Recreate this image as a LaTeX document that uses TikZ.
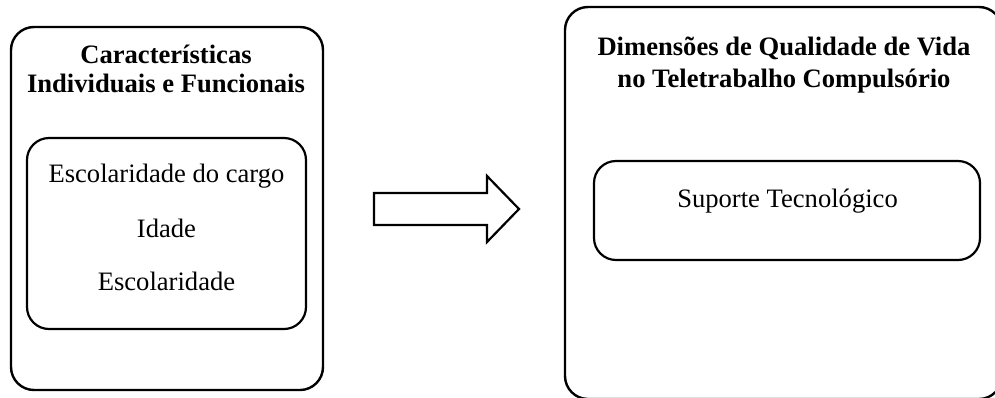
\documentclass[tikz,border=0pt]{standalone}
\usepackage{fontspec}
\setmainfont{Liberation Serif}
\begin{document}
\begin{tikzpicture}[x=1pt,y=-1pt,
  outerbox/.style={draw, line width=2.4pt, rounded corners=23pt, inner sep=0pt},
  innerbox/.style={draw, line width=2.2pt, rounded corners=22pt, inner sep=0pt},
  ttl/.style={font=\fontsize{26.6}{29}\selectfont\bfseries, inner sep=0pt, anchor=base},
  item/.style={font=\fontsize{26.6}{30}\selectfont, inner sep=0pt, anchor=base},
  bigarrow/.style={draw, line width=2.2pt, fill=white, miter limit=10}]
\useasboundingbox (0,0) rectangle (995,397);
% left
\node[outerbox, minimum width=312pt, minimum height=363pt] (L) at (167,208.5) {};
\node[innerbox, minimum width=279pt, minimum height=191pt] (Li) at (166.5,233.5) {};
\node[ttl] (l1) at (166,63) {Características};
\node[ttl] (l2) at (166,92) {Individuais e Funcionais};
\node[item] (i1) at (166.5,182) {Escolaridade do cargo};
\node[item] (i2) at (166.5,237) {Idade};
\node[item] (i3) at (166.5,290) {Escolaridade};
% right
\node[outerbox, minimum width=437pt, minimum height=392pt] (R) at (783.5,203) {};
\node[innerbox, minimum width=386pt, minimum height=99pt] (Ri) at (787,210.5) {};
\node[ttl] (r1) at (784,55) {Dimensões de Qualidade de Vida};
\node[ttl] (r2) at (784,87) {no Teletrabalho Compulsório};
\node[item] (s1) at (787.5,207) {Suporte Tecnológico};
% arrow
\coordinate (a1) at (374,193);
\coordinate (a2) at (487,193);
\coordinate (a3) at (487,176);
\coordinate (a4) at (519,209);
\coordinate (a5) at (487,242);
\coordinate (a6) at (487,225);
\coordinate (a7) at (374,225);
\draw[bigarrow] (a1) -- (a2) -- (a3) -- (a4) -- (a5) -- (a6) -- (a7) -- cycle;
\end{tikzpicture}
\end{document}
